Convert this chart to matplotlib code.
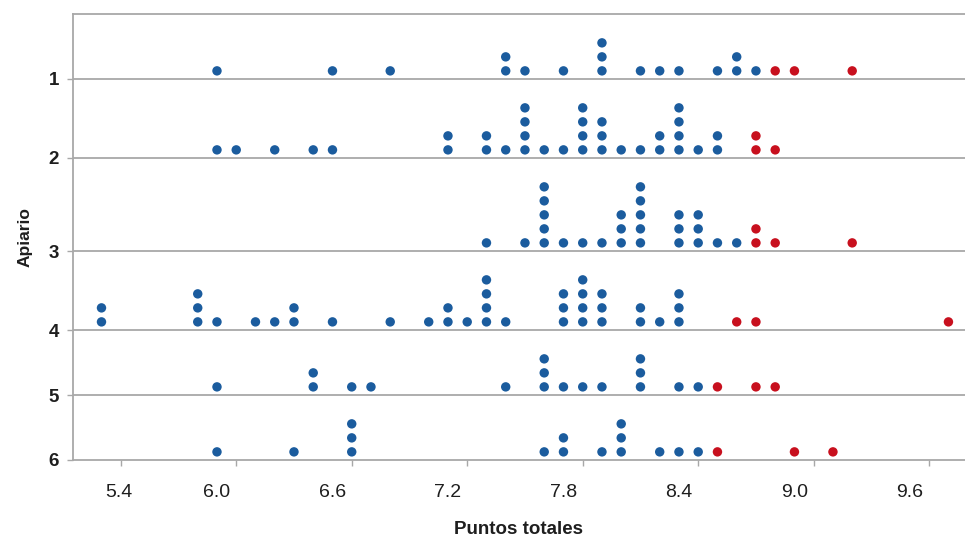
import matplotlib
matplotlib.use("Agg")
import matplotlib.pyplot as plt
import matplotlib.transforms as mtransforms
from collections import Counter

# apiary labels, top to bottom
apiarios = ["1", "2", "3", "4", "5", "6"]

# puntos totales per apiary (blue = normal, red = highlighted)
azul_1 = [6.0, 6.6, 6.9, 7.5, 7.5, 7.6, 7.8, 8.0, 8.0, 8.0, 8.2, 8.3, 8.4,
          8.6, 8.7, 8.7, 8.8]
rojo_1 = [8.9, 9.0, 9.3]
azul_2 = [6.0, 6.1, 6.3, 6.5, 6.6, 7.2, 7.2, 7.4, 7.4, 7.5, 7.6, 7.6, 7.6,
          7.6, 7.7, 7.8, 7.9, 7.9, 7.9, 7.9, 8.0, 8.0, 8.0, 8.1, 8.2, 8.3,
          8.3, 8.4, 8.4, 8.4, 8.4, 8.5, 8.6, 8.6]
rojo_2 = [8.8, 8.8, 8.9]
azul_3 = [7.4, 7.6, 7.7, 7.7, 7.7, 7.7, 7.7, 7.8, 7.9, 8.0, 8.1, 8.1, 8.1,
          8.2, 8.2, 8.2, 8.2, 8.2, 8.4, 8.4, 8.4, 8.5, 8.5, 8.5, 8.6, 8.7]
rojo_3 = [8.8, 8.8, 8.9, 9.3]
azul_4 = [5.4, 5.4, 5.9, 5.9, 5.9, 6.0, 6.2, 6.3, 6.4, 6.4, 6.6, 6.9, 7.1,
          7.2, 7.2, 7.3, 7.4, 7.4, 7.4, 7.4, 7.5, 7.8, 7.8, 7.8, 7.9, 7.9,
          7.9, 7.9, 8.0, 8.0, 8.0, 8.2, 8.2, 8.3, 8.4, 8.4, 8.4]
rojo_4 = [8.7, 8.8, 9.8]
azul_5 = [6.0, 6.5, 6.5, 6.7, 6.8, 7.5, 7.7, 7.7, 7.7, 7.8, 7.9, 8.0, 8.2,
          8.2, 8.2, 8.4, 8.5]
rojo_5 = [8.6, 8.8, 8.9]
azul_6 = [6.0, 6.4, 6.7, 6.7, 6.7, 7.7, 7.8, 7.8, 8.0, 8.1, 8.1, 8.1, 8.3,
          8.4, 8.5]
rojo_6 = [8.6, 9.0, 9.2]

azules = [azul_1, azul_2, azul_3, azul_4, azul_5, azul_6]
rojos = [rojo_1, rojo_2, rojo_3, rojo_4, rojo_5, rojo_6]

xticks = [5.4, 6.0, 6.6, 7.2, 7.8, 8.4, 9.0, 9.6]

AZUL = "#1b5c9e"
ROJO = "#c8101e"
GRIS = "#a8a8a8"

plt.rcParams["font.family"] = ["Liberation Sans", "DejaVu Sans"]

fig = plt.figure(figsize=(9.65, 5.42), dpi=100)
ax = fig.add_axes([73/965, 1 - 460/542, 1 - 73/965, 446/542])

# each band is as tall as its highest stack plus some headroom
PAD = 1.64
OFF = 0.58
alturas = []
for a, r in zip(azules, rojos):
    alturas.append(max(Counter(a + r).values()) + PAD)

bases = []
y = 0.0
for h in reversed(alturas):
    bases.insert(0, y)
    y += h
top = y

for base, a, r in zip(bases, azules, rojos):
    cnt = Counter()
    for vals, col in ((a, AZUL), (r, ROJO)):
        xs, ys = [], []
        for v in vals:
            xs.append(v)
            ys.append(base + OFF + cnt[v])
            cnt[v] += 1
        ax.scatter(xs, ys, s=46, color=col, edgecolors="none", zorder=3)
    if base > 0:
        ax.axhline(base, color=GRIS, lw=1.3, zorder=1)

ax.set_xlim(5.252, 9.886)
ax.set_ylim(0, top)
ax.set_xticks(xticks, [f"{t:.1f}" for t in xticks])
# the small tick marks sit one bin right of the labels
ax.set_xticks([t + 0.1 for t in xticks], minor=True)
ax.set_yticks(bases, apiarios)

for s in ["left", "bottom", "top"]:
    ax.spines[s].set_color(GRIS)
    ax.spines[s].set_linewidth(1.3)
ax.spines["right"].set_visible(False)
ax.tick_params(axis="y", colors=GRIS, length=4, width=1)
ax.tick_params(axis="x", which="major", length=0)
ax.tick_params(axis="x", which="minor", colors=GRIS, length=4, width=1)
ax.tick_params(axis="x", labelsize=14, labelcolor="#1e1e1e", pad=17)
ax.tick_params(axis="y", labelsize=13.5, labelcolor="#1e1e1e", pad=6)
for lb in ax.get_yticklabels():
    lb.set_fontweight("bold")

# first label is drawn a little to the right in the original
lb0 = ax.get_xticklabels()[0]
lb0.set_transform(lb0.get_transform() +
                  mtransforms.ScaledTranslation(0.17, 0, fig.dpi_scale_trans))

ax.set_xlabel("Puntos totales", fontsize=13.5, fontweight="bold",
              color="#1e1e1e", labelpad=15)
ax.set_ylabel("Apiario", fontsize=12.5, fontweight="bold",
              color="#1e1e1e", labelpad=12)

fig.savefig("out.png", dpi=100)
